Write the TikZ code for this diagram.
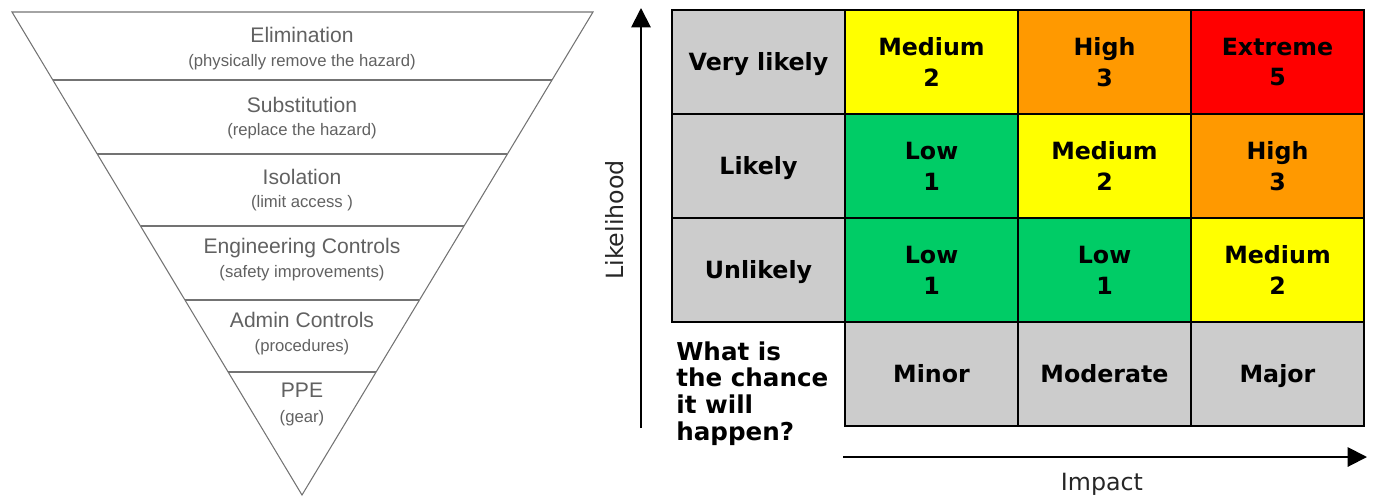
\documentclass[tikz,border=0pt]{standalone}
\usepackage{fontspec}
\setmainfont{DejaVu Sans}
\newfontfamily\handfont{Liberation Sans}
\usetikzlibrary{arrows.meta,calc}

\definecolor{cellgrey}{HTML}{CCCCCC}
\definecolor{riskgreen}{HTML}{00CC66}
\definecolor{riskyellow}{HTML}{FFFF00}
\definecolor{riskorange}{HTML}{FF9900}
\definecolor{riskred}{HTML}{FF0000}

\tikzset{
  cell/.style={draw=black, line width=1.5pt, minimum width=3.46cm, minimum height=2.08cm, inner sep=0pt, align=center, font=\bfseries\fontsize{13.5}{17.5}\selectfont},
  headcell/.style={cell, fill=cellgrey, text height=9.9pt, text depth=0pt},
  level/.style={font=\handfont\fontsize{12}{14}\selectfont, text=black!62},
  sublevel/.style={font=\handfont\fontsize{9.5}{11}\selectfont, text=black!62},
  band/.style={draw=black!55, line width=0.6pt},
  axis/.style={line width=1.1pt, -{Triangle[length=11pt,width=11pt]}},
  axislabel/.style={font=\fontsize{13.5}{16}\selectfont, text=black!85},
}

\begin{document}
\begin{tikzpicture}[x=0.02cm, y=-0.02cm]
			\useasboundingbox (0,0) rectangle (1373,498);
			% hierarchy of controls
			\coordinate (tl) at (12,12);
			\coordinate (tr) at (593,12);
			\coordinate (ap) at (302,495);
			\draw[band] (tl) -- (tr) -- (ap) -- cycle;
			\draw[band] ($(tl)!0.1408!(ap)$) -- ($(tr)!0.1408!(ap)$);
			\draw[band] ($(tl)!0.2940!(ap)$) -- ($(tr)!0.2940!(ap)$);
			\draw[band] ($(tl)!0.4431!(ap)$) -- ($(tr)!0.4431!(ap)$);
			\draw[band] ($(tl)!0.5963!(ap)$) -- ($(tr)!0.5963!(ap)$);
			\draw[band] ($(tl)!0.7453!(ap)$) -- ($(tr)!0.7453!(ap)$);
			\node[level](elim) at (302,35){Elimination};
			\node[sublevel](elimsub) at (302,62){(physically remove the hazard)};
			\node[level](subst) at (302,105){Substitution};
			\node[sublevel](substsub) at (302,131){(replace the hazard)};
			\node[level](isol) at (302,177){Isolation};
			\node[sublevel](isolsub) at (302,203){(limit access )};
			\node[level](eng) at (302,248){Engineering Controls};
			\node[sublevel](engsub) at (302,273){(safety improvements)};
			\node[level](admin) at (302,320){Admin Controls};
			\node[sublevel](adminsub) at (302,347){(procedures)};
			\node[level](ppe) at (302,390){PPE};
			\node[sublevel](ppesub) at (302,418){(gear)};
			% risk matrix
			\node[headcell](vl) at (758.5,62){Very likely};
			\node[headcell](lk) at (758.5,166){Likely};
			\node[headcell](ul) at (758.5,270){Unlikely};
			\node[cell, fill=riskyellow](vl1) at (931.5,62){Medium\\2};
			\node[cell, fill=riskorange](vl2) at (1104.5,62){High\\3};
			\node[cell, fill=riskred](vl3) at (1277.5,62){Extreme\\5};
			\node[cell, fill=riskgreen](lk1) at (931.5,166){Low\\1};
			\node[cell, fill=riskyellow](lk2) at (1104.5,166){Medium\\2};
			\node[cell, fill=riskorange](lk3) at (1277.5,166){High\\3};
			\node[cell, fill=riskgreen](ul1) at (931.5,270){Low\\1};
			\node[cell, fill=riskgreen](ul2) at (1104.5,270){Low\\1};
			\node[cell, fill=riskyellow](ul3) at (1277.5,270){Medium\\2};
			\node[headcell](minor) at (931.5,374){Minor};
			\node[headcell](moderate) at (1104.5,374){Moderate};
			\node[headcell](major) at (1277.5,374){Major};
			\node[anchor=north west, align=left, inner sep=0pt, font=\bfseries\fontsize{14}{15.3}\selectfont](chance) at (676,341){What is\\the chance\\it will\\happen?};
			% axes
			\coordinate (ybot) at (641,428);
			\coordinate (ytop) at (641,8);
			\coordinate (xleft) at (843,457);
			\coordinate (xright) at (1367,457);
			\draw[axis] (ybot) -- (ytop);
			\draw[axis] (xleft) -- (xright);
			\node[axislabel, rotate=90](likelihood) at (615,220){Likelihood};
			\node[axislabel](impact) at (1102,484){Impact};
			\end{tikzpicture}
\end{document}
